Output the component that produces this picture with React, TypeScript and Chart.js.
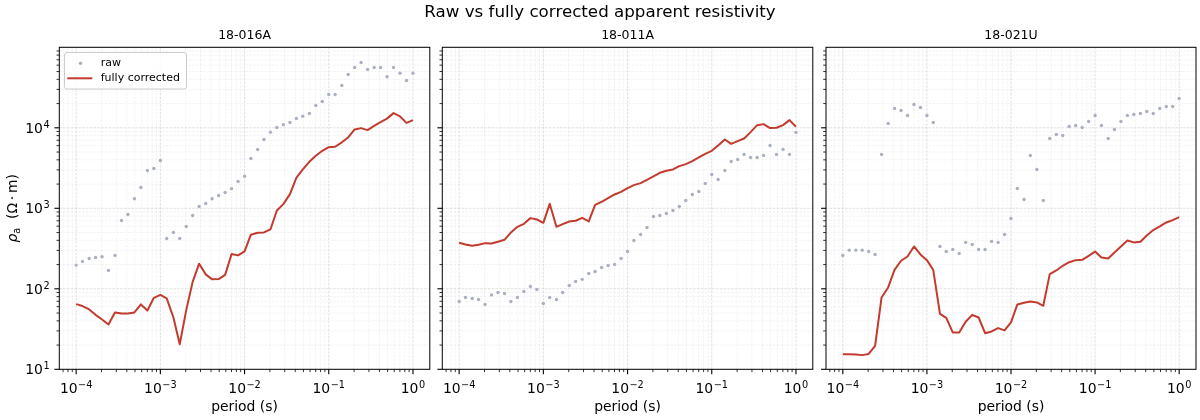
import React, { useEffect, useRef } from "react";
import { Chart, registerables } from "chart.js";

Chart.register(...registerables);

// Sounding periods in seconds, 13 per decade from 1e-4 s to 1 s
const periods = [
  1.0e-4, 1.19e-4, 1.43e-4, 1.7e-4, 2.03e-4, 2.42e-4, 2.89e-4, 3.46e-4, 4.12e-4, 4.92e-4, 5.88e-4, 7.02e-4, 8.38e-4,
  1.0e-3, 1.19e-3, 1.43e-3, 1.7e-3, 2.03e-3, 2.42e-3, 2.89e-3, 3.46e-3, 4.12e-3, 4.92e-3, 5.88e-3, 7.02e-3, 8.38e-3,
  1.0e-2, 1.19e-2, 1.43e-2, 1.7e-2, 2.03e-2, 2.42e-2, 2.89e-2, 3.46e-2, 4.12e-2, 4.92e-2, 5.88e-2, 7.02e-2, 8.38e-2,
  1.0e-1, 1.19e-1, 1.43e-1, 1.7e-1, 2.03e-1, 2.42e-1, 2.89e-1, 3.46e-1, 4.12e-1, 4.92e-1, 5.88e-1, 7.02e-1, 8.38e-1,
  1.0,
];

// Apparent resistivity (ohm-m) per station
const raw016A = [
  197, 219, 238, 245, 250, 169, 260, 706, 838, 1312, 1815, 2951, 3126, 3930, 422, 501, 422, 595, 815, 1054,
  1149, 1312, 1443, 1573, 1746, 2154, 2510, 4159, 5383, 7165, 8830, 10090, 10900, 11650, 13060, 13960, 15070,
  18940, 21240, 25940, 25940, 33580, 46010, 56150, 64830, 53060, 56150, 56150, 43030, 56150, 47760, 38730, 47760,
];
const corr016A = [
  64.5, 61, 55.4, 47.5, 41.6, 36, 50.8, 49.2, 49.2, 50.8, 64, 53.8, 77.3, 84.1, 75.9, 44, 20.5, 54.3, 122, 205,
  151, 131, 132, 149, 270, 260, 291, 470, 497, 501, 546, 940, 1127, 1500, 2393, 3036, 3782, 4490, 5180, 5750,
  5810, 6600, 7590, 9530, 9910, 9360, 10590, 11760, 13000, 15210, 13830, 11500, 12450,
];
const raw011A = [
  69.6, 78, 75.8, 73.7, 64, 84, 89.9, 87.4, 69.6, 78, 92.6, 107, 98, 65.8, 78, 73.7, 89.9, 110, 123, 131,
  155, 164, 184, 195, 201, 238, 291, 398, 473, 578, 792, 815, 863, 940, 1054, 1251, 1486, 1617, 2034, 2630,
  2280, 2951, 3820, 4040, 4670, 4280, 4280, 4540, 6040, 4670, 5390, 4670, 8770,
];
const corr011A = [
  373, 355, 342, 352, 369, 365, 384, 406, 501, 589, 642, 755, 726, 660, 1137, 589, 636, 686, 700, 762,
  686, 1105, 1205, 1337, 1486, 1603, 1781, 1940, 2054, 2260, 2486, 2761, 2924, 3036, 3340, 3540, 3855, 4277,
  4750, 5180, 6040, 7165, 6320, 6820, 7360, 8840, 10790, 11110, 9910, 10000, 10790, 12450, 10290,
];
const raw021U = [
  259, 302, 302, 302, 291, 267, 4670, 11320, 17380, 16400, 14220, 19480, 17910, 14220, 11650, 336, 291, 308,
  275, 377, 355, 308, 308, 388, 377, 473, 748, 1762, 1288, 4530, 3036, 1251, 7360, 8260, 8030, 10390, 10690,
  10090, 11990, 14220, 10690, 7360, 9530, 11990, 14220, 14650, 15070, 15950, 15070, 17380, 18410, 18410, 23120,
];
const corr021U = [
  15.4, 15.4, 15.3, 15.0, 15.5, 19.6, 78, 104, 172, 223, 252, 336, 267, 227, 171, 48.9, 43.6, 28.7, 28.7, 38.9,
  47.5, 44, 28.1, 29.5, 32.5, 30.4, 38.2, 64, 67, 69.6, 67.7, 61.5, 152, 169, 193, 214, 227, 229, 257, 291,
  245, 238, 283, 336, 398, 377, 384, 460, 536, 595, 667, 713, 776,
];

const stations = ["18-016A", "18-011A", "18-021U"];
const rawSeries = [raw016A, raw011A, raw021U];
const corrSeries = [corr016A, corr011A, corr021U];

const xTickExps = [-4, -3, -2, -1, 0];
const yTickExps = [1, 2, 3, 4];

const suptitle = "Raw vs fully corrected apparent resistivity";
const xLabel = "period (s)";
const legendLabels = ["raw", "fully corrected"];

const W = 1200;
const H = 420;
const PANEL_LEFT = [59.3, 442.3, 826];
const PANEL_W = 370.5;
const PLOT_TOP = 47.3;
const PLOT_BOTTOM = 369.3;
const X_MIN = Math.pow(10, -4.2);
const X_MAX = Math.pow(10, 0.2);
const Y_MIN = 10;
const Y_MAX = 1e5;

const FONT = '"DejaVu Sans", Verdana, sans-serif';
const RED = "#c23b2e";
const GREY = "#aab0bf";
const BASE = 13.9;

function gridValues(min: number, max: number) {
  const out: { v: number; major: boolean }[] = [];
  const e0 = Math.floor(Math.log10(min));
  const e1 = Math.ceil(Math.log10(max));
  for (let e = e0; e <= e1; e++) {
    for (let m = 1; m <= 9; m++) {
      const v = m * Math.pow(10, e);
      if (v >= min * 0.9999 && v <= max * 1.0001) out.push({ v, major: m === 1 });
    }
  }
  return out;
}

function drawPow(ctx: CanvasRenderingContext2D, x: number, y: number, exp: number, align: "center" | "right") {
  const base = "10";
  const sup = exp < 0 ? "\u2212" + Math.abs(exp) : String(exp);
  const supSize = BASE * 0.7;
  ctx.font = `${BASE}px ${FONT}`;
  const wb = ctx.measureText(base).width;
  ctx.font = `${supSize}px ${FONT}`;
  const ws = ctx.measureText(sup).width;
  const total = wb + ws + 0.5;
  const x0 = align === "center" ? x - total / 2 : x - total;
  ctx.textAlign = "left";
  ctx.textBaseline = "alphabetic";
  ctx.font = `${BASE}px ${FONT}`;
  ctx.fillText(base, x0, y);
  ctx.font = `${supSize}px ${FONT}`;
  ctx.fillText(sup, x0 + wb + 0.5, y - BASE * 0.37);
}

function makeDecor(panel: number) {
  return {
    id: "panelDecor" + panel,
    beforeDatasetsDraw(chart: any) {
      const { ctx, chartArea: a, scales } = chart;
      const xs = scales.x;
      const ys = scales.y;
      ctx.save();
      ctx.setLineDash([2.6, 1.2]);
      for (const g of gridValues(X_MIN, X_MAX)) {
        const px = xs.getPixelForValue(g.v);
        ctx.strokeStyle = g.major ? "rgba(0,0,0,0.16)" : "rgba(0,0,0,0.09)";
        ctx.lineWidth = g.major ? 0.8 : 0.6;
        ctx.beginPath();
        ctx.moveTo(px, a.top);
        ctx.lineTo(px, a.bottom);
        ctx.stroke();
      }
      for (const g of gridValues(Y_MIN, Y_MAX)) {
        const py = ys.getPixelForValue(g.v);
        ctx.strokeStyle = g.major ? "rgba(0,0,0,0.16)" : "rgba(0,0,0,0.09)";
        ctx.lineWidth = g.major ? 0.8 : 0.6;
        ctx.beginPath();
        ctx.moveTo(a.left, py);
        ctx.lineTo(a.right, py);
        ctx.stroke();
      }
      ctx.restore();
    },
    afterDraw(chart: any) {
      const { ctx, chartArea: a, scales } = chart;
      const xs = scales.x;
      const ys = scales.y;
      ctx.save();

      // frame
      ctx.strokeStyle = "#000";
      ctx.lineWidth = 1;
      ctx.strokeRect(a.left, a.top, a.right - a.left, a.bottom - a.top);

      // tick marks (outward)
      ctx.strokeStyle = "#000";
      for (const g of gridValues(X_MIN, X_MAX)) {
        const px = xs.getPixelForValue(g.v);
        if (px < a.left - 0.5 || px > a.right + 0.5) continue;
        ctx.lineWidth = g.major ? 1.1 : 0.8;
        const len = g.major ? 4.9 : 2.8;
        ctx.beginPath();
        ctx.moveTo(px, a.bottom);
        ctx.lineTo(px, a.bottom + len);
        ctx.stroke();
      }
      for (const g of gridValues(Y_MIN, Y_MAX)) {
        if (g.v >= Y_MAX * 0.999) continue;
        const py = ys.getPixelForValue(g.v);
        ctx.lineWidth = g.major ? 1.1 : 0.8;
        const len = g.major ? 4.9 : 2.8;
        ctx.beginPath();
        ctx.moveTo(a.left, py);
        ctx.lineTo(a.left - len, py);
        ctx.stroke();
      }

      ctx.fillStyle = "#000";
      // x tick labels
      for (const e of xTickExps) {
        const px = xs.getPixelForValue(Math.pow(10, e));
        drawPow(ctx, px, a.bottom + 24, e, "center");
      }
      // y tick labels (shared axis, first panel only)
      if (panel === 0) {
        for (const e of yTickExps) {
          const py = ys.getPixelForValue(Math.pow(10, e));
          drawPow(ctx, a.left - 9.7, py + 5, e, "right");
        }
      }

      const cx = (a.left + a.right) / 2;
      // x axis label
      ctx.font = `${BASE}px ${FONT}`;
      ctx.textAlign = "center";
      ctx.textBaseline = "alphabetic";
      ctx.fillText(xLabel, cx, 411);

      // panel title
      ctx.font = `12.5px ${FONT}`;
      ctx.fillText(stations[panel], cx, 39);

      if (panel === 0) {
        // figure title
        ctx.font = `16.7px ${FONT}`;
        ctx.fillText(suptitle, W / 2, 17.4);

        // y axis label: rho_a (Ω·m)
        ctx.save();
        ctx.translate(12.5, (a.top + a.bottom) / 2);
        ctx.rotate(-Math.PI / 2);
        ctx.textAlign = "left";
        const rhoFont = `italic ${BASE}px ${FONT}`;
        const subFont = `${BASE * 0.7}px ${FONT}`;
        const restFont = `${BASE}px ${FONT}`;
        const rest = "  (\u03A9\u2009\u00B7\u2009m)";
        ctx.font = rhoFont;
        const w1 = ctx.measureText("\u03C1").width;
        ctx.font = subFont;
        const w2 = ctx.measureText("a").width;
        ctx.font = restFont;
        const w3 = ctx.measureText(rest).width;
        let x0 = -(w1 + w2 + w3) / 2;
        const bl = 4.6;
        ctx.font = rhoFont;
        ctx.fillText("\u03C1", x0, bl);
        x0 += w1;
        ctx.font = subFont;
        ctx.fillText("a", x0, bl + 2.6);
        x0 += w2;
        ctx.font = restFont;
        ctx.fillText(rest, x0, bl);
        ctx.restore();

        // legend
        const lx = 64.5, ly = 52.5, lw = 122, lh = 36.5;
        ctx.beginPath();
        ctx.roundRect(lx, ly, lw, lh, 2.5);
        ctx.fillStyle = "rgba(255,255,255,0.8)";
        ctx.fill();
        ctx.strokeStyle = "#cccccc";
        ctx.lineWidth = 1;
        ctx.stroke();

        ctx.fillStyle = GREY;
        ctx.beginPath();
        ctx.arc(80.5, 63.3, 1.7, 0, Math.PI * 2);
        ctx.fill();

        ctx.strokeStyle = RED;
        ctx.lineWidth = 2;
        ctx.beginPath();
        ctx.moveTo(67.3, 78.3);
        ctx.lineTo(92.3, 78.3);
        ctx.stroke();

        ctx.fillStyle = "#000";
        ctx.font = `11px ${FONT}`;
        ctx.textAlign = "left";
        ctx.textBaseline = "middle";
        ctx.fillText(legendLabels[0], 100.7, 63.3);
        ctx.fillText(legendLabels[1], 100.7, 78.3);
      }

      ctx.restore();
    },
  };
}

function buildConfig(panel: number): any {
  const left = PANEL_LEFT[panel];
  return {
    type: "line",
    data: {
      datasets: [
        {
          label: legendLabels[1],
          data: periods.map((p, i) => ({ x: p, y: corrSeries[panel][i] })),
          borderColor: RED,
          backgroundColor: RED,
          borderWidth: 2,
          pointRadius: 0,
          tension: 0,
          borderJoinStyle: "round",
          order: 1,
        },
        {
          label: legendLabels[0],
          data: periods.map((p, i) => ({ x: p, y: rawSeries[panel][i] })),
          showLine: false,
          pointRadius: 1.7,
          pointBorderWidth: 0,
          pointBackgroundColor: GREY,
          borderColor: GREY,
          order: 2,
        },
      ],
    },
    options: {
      responsive: false,
      maintainAspectRatio: false,
      animation: false,
      events: [],
      devicePixelRatio: 1,
      layout: {
        padding: {
          left,
          right: W - left - PANEL_W,
          top: PLOT_TOP,
          bottom: H - PLOT_BOTTOM,
        },
      },
      plugins: {
        legend: { display: false },
        title: { display: false },
        tooltip: { enabled: false },
      },
      scales: {
        x: { type: "logarithmic", min: X_MIN, max: X_MAX, display: false },
        y: { type: "logarithmic", min: Y_MIN, max: Y_MAX, display: false },
      },
    },
    plugins: [makeDecor(panel)],
  };
}

export default function App() {
  const refs = [useRef<HTMLCanvasElement>(null), useRef<HTMLCanvasElement>(null), useRef<HTMLCanvasElement>(null)];

  useEffect(() => {
    const charts = refs.map((r, i) => new Chart(r.current as HTMLCanvasElement, buildConfig(i)));
    return () => charts.forEach((c) => c.destroy());
  }, []);

  return (
    <div style={{ position: "fixed", left: 0, top: 0, width: W, height: H, background: "#fff" }}>
      {refs.map((r, i) => (
        <canvas
          key={i}
          ref={r}
          width={W}
          height={H}
          style={{ position: "absolute", left: 0, top: 0, width: W, height: H }}
        />
      ))}
    </div>
  );
}
